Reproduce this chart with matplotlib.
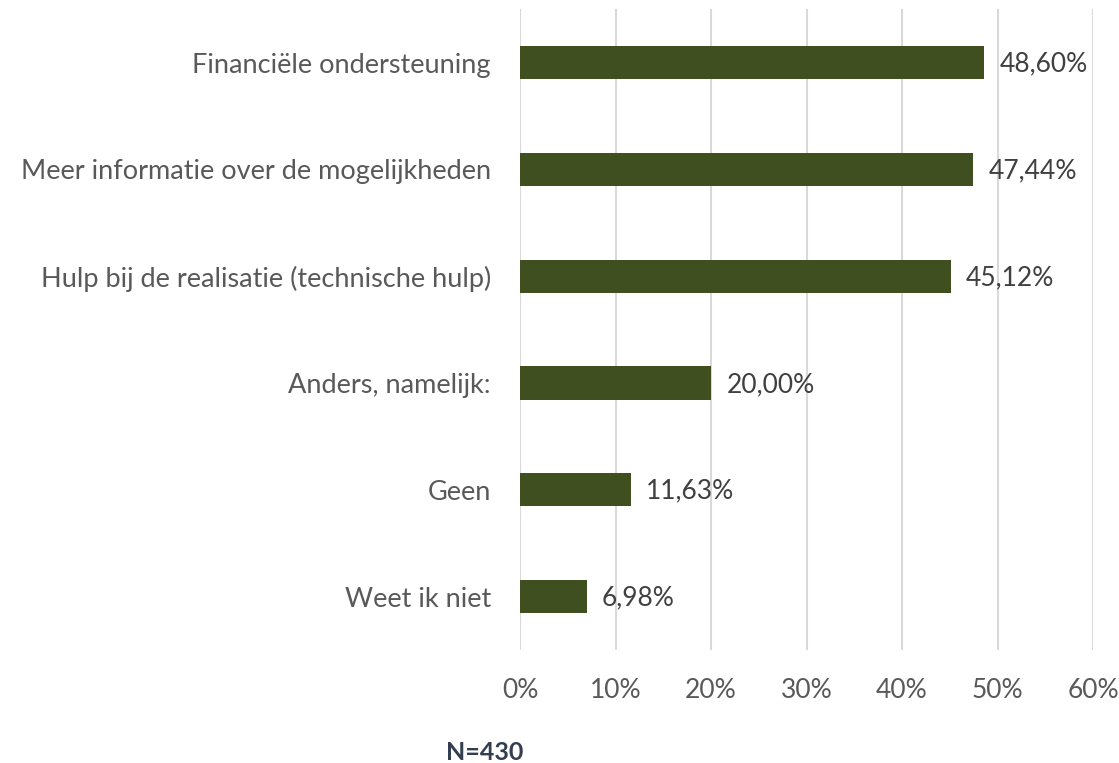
import numpy as np
import matplotlib.pyplot as plt
from matplotlib.ticker import FuncFormatter

plt.rcParams['font.family'] = ['Lato', 'DejaVu Sans']

categories = ["Financiële ondersteuning",
              "Meer informatie over de mogelijkheden",
              "Hulp bij de realisatie (technische hulp)",
              "Anders, namelijk:",
              "Geen",
              "Weet ik niet"]
values = [48.60, 47.44, 45.12, 20.00, 11.63, 6.98]
note = "N=430"

fig = plt.figure(figsize=(11.19, 7.63), dpi=100)
ax = fig.add_axes([0.4647, 0.148, 0.9768 - 0.4647, 0.988 - 0.148])

y = np.arange(len(categories))
ax.barh(y, values, height=0.31, color="#404F20", zorder=3)
for yi, v in zip(y, values):
    label = f"{v:.2f}%".replace(".", ",")
    ax.annotate(label, (v, yi), xytext=(11, -1), textcoords="offset points",
                va="center", ha="left", fontsize=19, color="#404040")

ax.set_yticks(y)
ax.set_yticklabels(categories, fontsize=19.5, color="#595959")
ax.set_ylim(len(categories) - 0.5, -0.5)
ax.set_xlim(0, 60)
ax.set_xticks(np.arange(0, 61, 10))
ax.xaxis.set_major_formatter(FuncFormatter(lambda x, p: f"{x:.0f}%"))
ax.tick_params(axis="x", labelsize=19, labelcolor="#595959", length=0, pad=20)
ax.tick_params(axis="y", length=0, pad=21)
ax.grid(axis="x", color="#D9D9D9", linewidth=1.5, zorder=0)
for s in ax.spines.values():
    s.set_visible(False)

fig.text(0.3986, 0.004, note, fontsize=18, fontweight="bold", color="#333F50",
         ha="left", va="baseline")

fig.savefig("out.png", dpi=100)
